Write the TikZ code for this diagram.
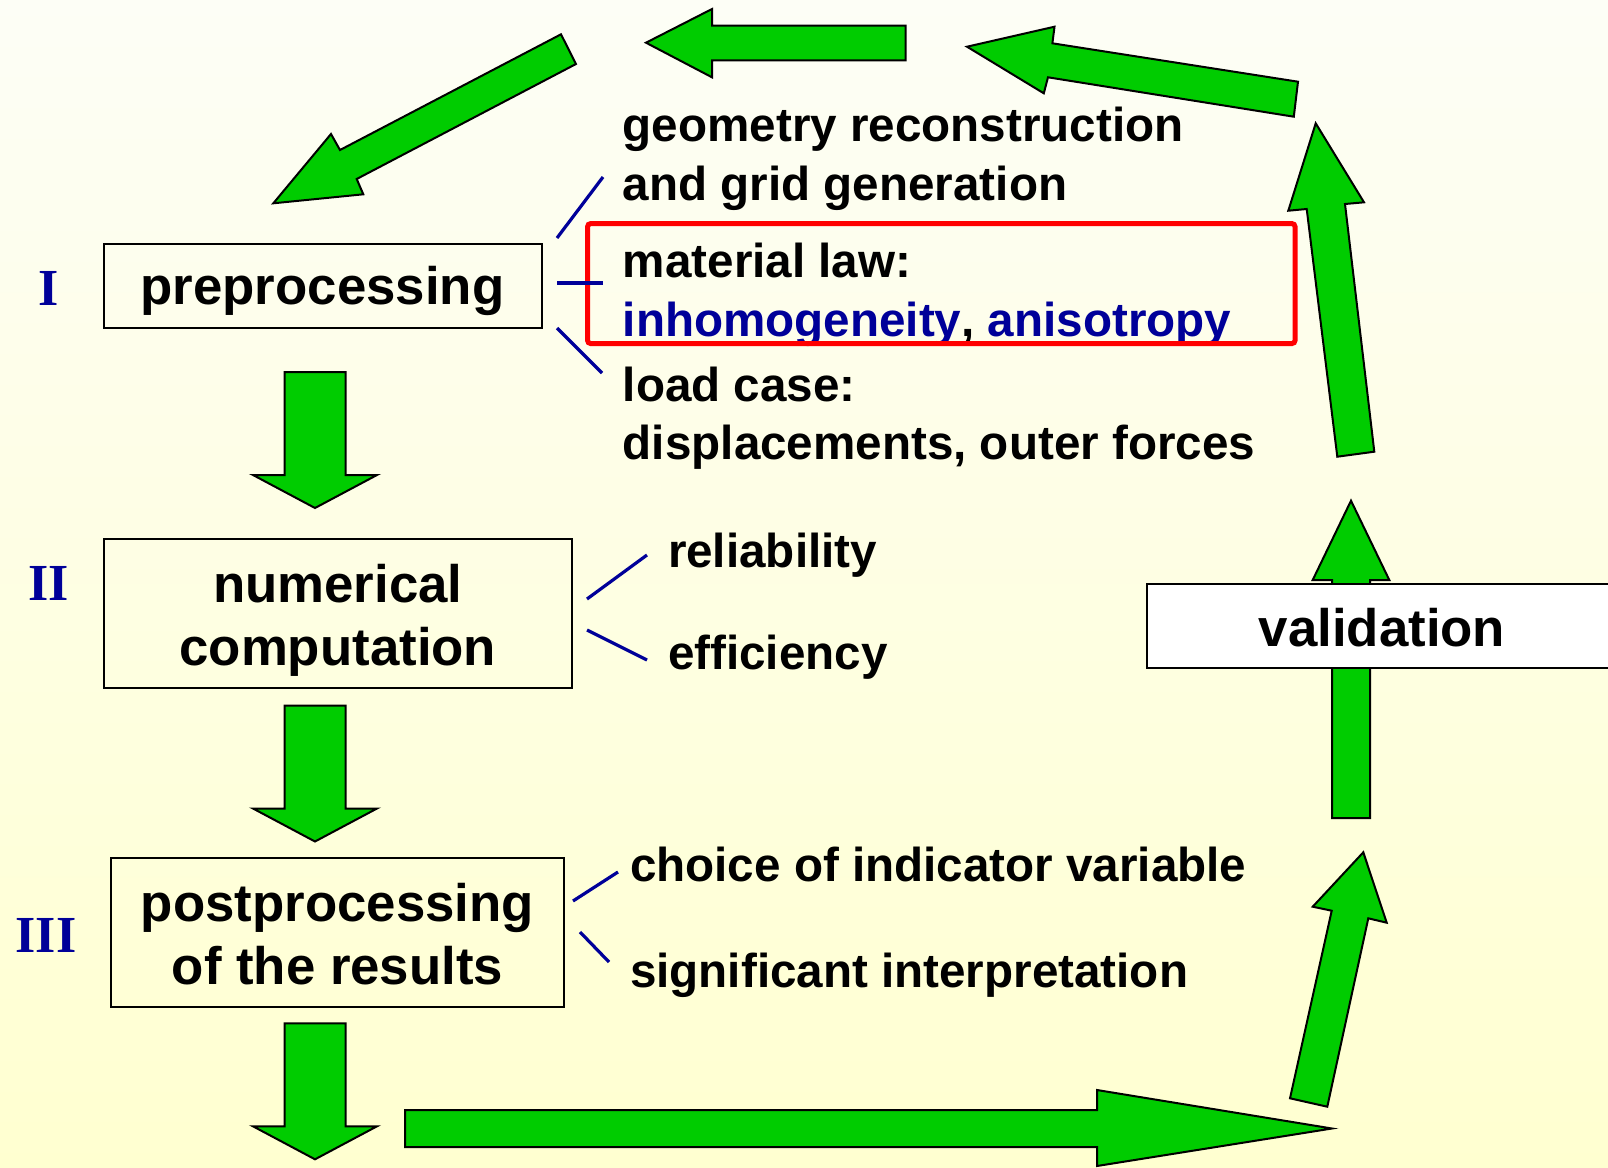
\documentclass[tikz,border=0pt]{standalone}
\usepackage{fontspec}
\setmainfont{Liberation Sans}
\newfontfamily\romanfont{Liberation Serif}
\definecolor{arrowgreen}{RGB}{0,204,0}
\definecolor{navy}{RGB}{0,0,153}
\definecolor{bgtop}{RGB}{253,254,246}
\definecolor{bgbot}{RGB}{255,255,208}
\newcommand{\boxfont}{\fontsize{26.4}{31.6}\selectfont\bfseries}
\newcommand{\notefont}{\fontsize{23.8}{29.25}\selectfont\bfseries}
\tikzset{
  stage/.style={draw=black,line width=1pt,inner sep=0pt,align=center,font=\boxfont},
  note/.style={anchor=west,align=left,inner sep=0pt,font=\notefont},
  numeral/.style={text=navy,inner sep=0pt,font=\romanfont\fontsize{26}{30}\selectfont\bfseries},
  fatarrow/.style={fill=arrowgreen,draw=black,line width=1pt,line join=miter},
  tick/.style={draw=navy,line width=1.6pt},
}
\begin{document}
\begin{tikzpicture}[x=0.5pt,y=-0.5pt]
\useasboundingbox (0,0) rectangle (1608,1168);
\shade[top color=bgtop,bottom color=bgbot] (0,0) rectangle (1608,1168);

% the cycle of big arrows
\draw[fatarrow] (561,34.3) -- (576,64) -- (356.7,179) -- (363.3,194.3) -- (273.3,203.3) -- (331,134) -- (340,150) -- cycle;
\draw[fatarrow] (646,42.7) -- (712,9) -- (712,25.7) -- (905.5,25.7) -- (905.5,60.3) -- (712,60.3) -- (712,77.3) -- cycle;
\draw[fatarrow] (967,46.7) -- (1054.5,26.7) -- (1052.4,43.3) -- (1298,81.7) -- (1293.8,116.7) -- (1048,77.3) -- (1043.8,93.3) -- cycle;
\draw[fatarrow] (1315.7,123.3) -- (1364,202.3) -- (1345,204) -- (1374.3,451.7) -- (1337.3,456.7) -- (1306.7,209) -- (1288.3,210.7) -- cycle;
\draw[fatarrow] (1351,500.7) -- (1389.3,580) -- (1370,580) -- (1370,818) -- (1332,818) -- (1332,580) -- (1312.7,580) -- cycle;
\draw[fatarrow] (1363.3,852.3) -- (1386.7,922.7) -- (1368.3,918.3) -- (1327.3,1106.7) -- (1290,1098.3) -- (1331.7,910.7) -- (1312.7,906.7) -- cycle;
\draw[fatarrow] (1332,1128.5) -- (1097,1166) -- (1097,1147) -- (405,1147) -- (405,1110) -- (1097,1110) -- (1097,1090) -- cycle;
\foreach \t in {372,705.5,1023.3}
  \draw[fatarrow] (315,\t+136) -- (377,\t+103) -- (345.5,\t+103) -- (345.5,\t) -- (284.5,\t) -- (284.5,\t+103) -- (253,\t+103) -- cycle;

% stages
\draw[line width=1pt] (103.6,244) rectangle (541.5,328);
\node[stage,draw=none] (pre) at (322.5,291) {preprocessing};
\draw[line width=1pt] (103.6,539) rectangle (572,688);
\node[stage,draw=none] (num) at (337.8,620) {numerical\\computation};
\draw[line width=1pt] (111,858) rectangle (564,1007);
\node[stage,draw=none] (post) at (337.5,934.5) {postprocessing\\of the results};
\node[stage,fill=white,minimum width=235pt,minimum height=42pt] (valid) at (1382,626.2) {};
\node[stage,draw=none] (validtext) at (1382,627.5) {validation};

\node[numeral] (numI) at (49,288) {I};
\node[numeral] (numII) at (49,583) {II};
\node[numeral] (numIII) at (46,935) {III};

% notes
\node[note] (geom) at (622.5,159) {geometry reconstruction\\and grid generation};
\node[note] (mat) at (622.5,295) {material law:\\{\color{navy}inhomogeneity}, {\color{navy}anisotropy}};
\node[note] (load) at (622.5,418) {load case:\\displacements, outer forces};
\draw[red,line width=2.5pt,rounded corners=1.5pt] (587.6,223.6) rectangle (1295,343.5);
\node[note] (rel) at (667.6,555) {reliability};
\node[note] (eff) at (667.6,657) {efficiency};
\node[note] (choice) at (629.7,864.5) {choice of indicator variable};
\node[note] (interp) at (629.7,975) {significant interpretation};

\draw[tick] (557,238) -- (603,177);
\draw[tick] (557,283) -- (603,283);
\draw[tick] (557,328) -- (602,373);
\draw[tick] (587,599) -- (647,555);
\draw[tick] (587,630) -- (647,660);
\draw[tick] (573,901) -- (618,872);
\draw[tick] (580,932) -- (609,962);
\end{tikzpicture}
\end{document}
